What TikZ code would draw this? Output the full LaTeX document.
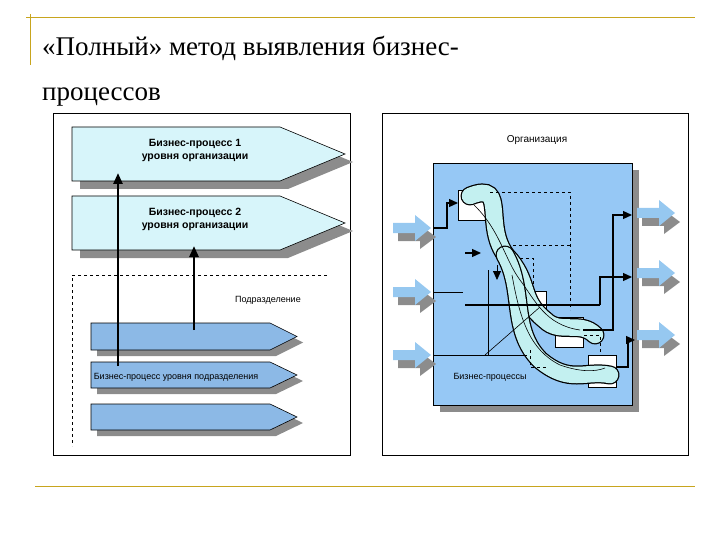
\documentclass[tikz,border=0pt]{standalone}
\usepackage{fontspec}
\setmainfont{Liberation Serif}
\newfontfamily\dsans{Liberation Sans}
\usetikzlibrary{arrows.meta}
\definecolor{gold}{RGB}{200,165,30}
\definecolor{pcyan}{RGB}{215,245,250}
\definecolor{pblue}{RGB}{140,185,230}
\definecolor{orgblue}{RGB}{150,200,245}
\definecolor{shad}{RGB}{140,140,140}
\definecolor{band}{RGB}{195,240,240}
\definecolor{arrblue}{RGB}{150,200,240}
\tikzset{
 x=1pt,y=-1pt,
 lbl/.style={font=\dsans\fontsize{9}{10}\selectfont,inner sep=0pt},
 blbl/.style={font=\dsans\bfseries\fontsize{10.5}{13}\selectfont,align=center,inner sep=0pt},
 conn/.style={line width=1.2pt,-{Triangle[length=9pt,width=8pt]}},
 thin/.style={line width=0.6pt},
 dsh/.style={dashed,line width=0.7pt},
}
\begin{document}
\begin{tikzpicture}
\useasboundingbox (0,0) rectangle (720,540);
% decoration
\draw[gold,line width=1pt] (30,14) -- (30,65);
\draw[gold,line width=1pt] (26,18) -- (695,18);
\draw[gold,line width=1pt] (35,486) -- (695,486);
\node[anchor=west,font=\fontsize{27}{30}\selectfont,inner sep=0pt] (t1) at (42,48) {«Полный» метод выявления бизнес-};
\node[anchor=west,font=\fontsize{27}{30}\selectfont,inner sep=0pt] (t2) at (42,97) {процессов};
% left panel
\draw[thin] (53,113) rectangle (350,455);
\foreach \yt/\yb/\nm in {127/181/p1,196/250/p2}{
 \fill[shad] (80,\yt+8) -- (288,\yt+8) -- (353,{(\yt+\yb)/2+8}) -- (288,\yb+8) -- (80,\yb+8) -- cycle;
 \draw[thin,fill=pcyan] (72,\yt) -- (280,\yt) -- (345,{(\yt+\yb)/2}) -- (280,\yb) -- (72,\yb) -- cycle;
}
\node[blbl] (b1) at (195,150) {Бизнес-процесс 1\\уровня организации};
\node[blbl] (b2) at (195,219) {Бизнес-процесс 2\\уровня организации};
\draw[dsh] (327,275) -- (72,275) -- (72,446);
\node[lbl] (pod) at (268,300) {Подразделение};
\foreach \yt/\yb in {323/350,362/388,404/430}{
 \fill[shad] (97,\yt+6) -- (276,\yt+6) -- (303,{(\yt+\yb)/2+6}) -- (276,\yb+6) -- (97,\yb+6) -- cycle;
 \draw[thin,fill=pblue] (91,\yt) -- (270,\yt) -- (297,{(\yt+\yb)/2}) -- (270,\yb) -- (91,\yb) -- cycle;
}
\node[lbl] (sub) at (176,377) {Бизнес-процесс уровня подразделения};
\coordinate (a1s) at (118,366); \coordinate (a1e) at (118,173);
\coordinate (a2s) at (194,330); \coordinate (a2e) at (194,246);
\draw[line width=2.5pt,-{Triangle[length=11pt,width=9pt]}] (a1s) -- (a1e);
\draw[line width=2.5pt,-{Triangle[length=11pt,width=9pt]}] (a2s) -- (a2e);
% right panel
\draw[thin] (382,113) rectangle (688,455);
\node[lbl,font=\dsans\fontsize{10}{11}\selectfont] (org) at (537,140) {Организация};
\fill[shad] (440,170) rectangle (639,412);
\draw[thin,fill=orgblue] (433,163) rectangle (632,405);
% block arrows
\foreach \y in {228,292,355}{
 \fill[shad] (398,\y+5) -- (420,\y+5) -- (420,\y-3) -- (436,\y+9) -- (420,\y+21) -- (420,\y+13) -- (398,\y+13) -- cycle;
 \fill[arrblue] (393,\y-5) -- (415,\y-5) -- (415,\y-13) -- (431,\y) -- (415,\y+13) -- (415,\y+5) -- (393,\y+5) -- cycle;
}
\foreach \y in {213,273,335}{
 \fill[shad] (642,\y+5) -- (664,\y+5) -- (664,\y-3) -- (680,\y+9) -- (664,\y+21) -- (664,\y+13) -- (642,\y+13) -- cycle;
 \fill[arrblue] (637,\y-5) -- (659,\y-5) -- (659,\y-13) -- (675,\y) -- (659,\y+13) -- (659,\y+5) -- (637,\y+5) -- cycle;
}
% small boxes
\draw[thin,fill=white] (458,190) rectangle (486,220);
\draw[thin,fill=white] (555,317) rectangle (583,347);
\draw[thin,fill=white] (588,355) rectangle (616,387);
\draw[thin,fill=white] (532,291) rectangle (546,320);
% band
\draw[line width=19pt,black,line cap=round] (470,196) .. controls (510,180) and (480,230) .. (510,260) .. controls (530,285) and (520,300) .. (545,320) .. controls (560,335) and (580,320) .. (595,335);
\draw[line width=16.5pt,band,line cap=round] (470,196) .. controls (510,180) and (480,230) .. (510,260) .. controls (530,285) and (520,300) .. (545,320) .. controls (560,335) and (580,320) .. (595,335);
\draw[line width=19pt,black,line cap=round] (505,255) .. controls (525,290) and (510,330) .. (540,360) .. controls (570,385) and (585,370) .. (610,375);
\draw[line width=16.5pt,band,line cap=round] (505,255) .. controls (525,290) and (510,330) .. (540,360) .. controls (570,385) and (585,370) .. (610,375);
\draw[thin] (474,205) .. controls (500,230) and (505,260) .. (520,280) .. controls (535,300) and (545,325) .. (580,330);
\draw[thin] (512,275) .. controls (520,320) and (530,350) .. (560,365) .. controls (580,372) and (595,372) .. (605,368);
% dashed
\draw[dsh] (490,192) -- (570,192) -- (570,310);
\draw[dsh] (513,245) -- (570,245);
\draw[dsh] (520,258) -- (533,258) -- (533,285);
\draw[dsh] (584,335) -- (600,335) -- (600,352);
\draw[dsh] (530,350) -- (530,367) -- (547,367);
% lines and arrows
\coordinate (i1) at (433,228);
\draw[conn] (i1) -- (447,228) -- (447,203) -- (458,203);
\coordinate (i2a) at (465,253); \coordinate (i2b) at (481,253);
\draw[conn] (i2a) -- (i2b);
\draw[thin] (433,292) -- (463,292);
\draw[line width=1.2pt] (465,305) -- (600,305);
\draw[conn] (600,305) -- (600,277) -- (632,277);
\draw[conn] (583,330) -- (613,330) -- (613,215) -- (632,215);
\draw[conn] (616,367) -- (628,367) -- (628,340) -- (635,340);
\draw[thin] (433,355) -- (527,355);
\draw[thin] (485,355) -- (540,307);
\draw[thin] (488,355) -- (488,270);
\draw[conn,line width=0.8pt] (497,265) -- (497,280);
\node[lbl] (bp) at (490,377) {Бизнес-процессы};
\end{tikzpicture}
\end{document}
